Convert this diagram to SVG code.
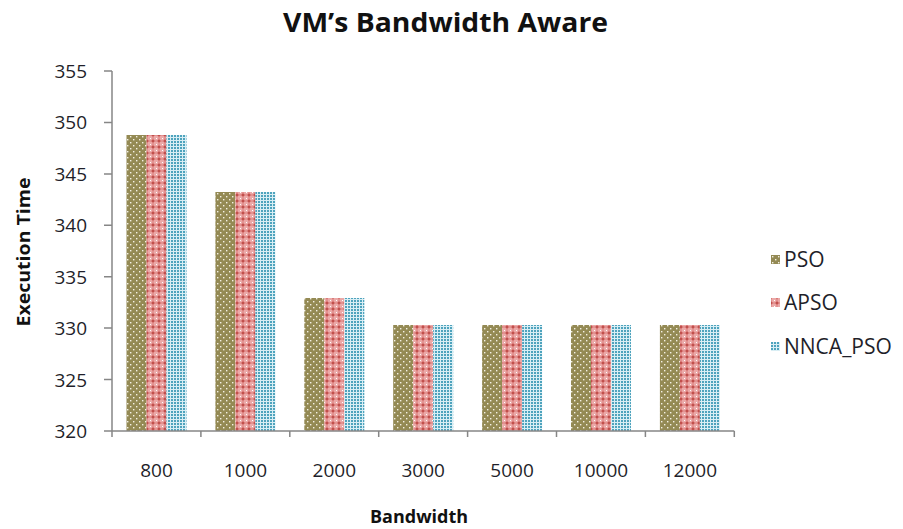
<svg xmlns="http://www.w3.org/2000/svg" width="903" height="529" viewBox="0 0 903 529">
  <style>
    .axis { stroke: #868686; stroke-width: 1.5; fill: none; }
    .tick { font-family: "Open Sans", "DejaVu Sans", sans-serif; font-size: 19px; fill: #1f1f2a; }
    .ylab { text-anchor: end; }
    .xlab { text-anchor: middle; }
    .title { font-family: "Open Sans", "Liberation Sans", sans-serif; font-weight: bold; font-size: 27px; fill: #111; text-anchor: middle; }
    .axtitle { font-family: "Open Sans", "Liberation Sans", sans-serif; font-weight: bold; font-size: 17px; fill: #111; text-anchor: middle; }
    .legend { font-family: "Open Sans", "DejaVu Sans", sans-serif; font-size: 21px; fill: #1f1f2a; }
    .pso { fill: url(#patPSO); }
    .apso { fill: url(#patAPSO); }
    .nnca { fill: url(#patNNCA); }
  </style>
  <defs>
    <!-- olive fill with white dots -->
    <pattern id="patPSO" width="6" height="6" patternUnits="userSpaceOnUse">
      <rect width="6" height="6" fill="#948A54"/>
      <rect x="1" y="1" width="1.4" height="1.4" fill="#f4f1e4"/>
      <rect x="4" y="4" width="1.4" height="1.4" fill="#f4f1e4"/>
    </pattern>
    <!-- red lattice with plus marks -->
    <pattern id="patAPSO" width="6" height="6" patternUnits="userSpaceOnUse">
      <rect width="6" height="6" fill="#eba9a8"/>
      <rect x="2.5" y="0.5" width="1" height="5" fill="#c94f4c"/>
      <rect x="0.5" y="2.5" width="5" height="1" fill="#c94f4c"/>
      <rect x="2" y="2" width="2" height="2" fill="#c0504d"/>
      <rect x="0" y="0" width="1" height="1" fill="#ffffff"/>
    </pattern>
    <!-- fine blue checker -->
    <pattern id="patNNCA" width="3" height="3" patternUnits="userSpaceOnUse">
      <rect width="3" height="3" fill="#d9eef4"/>
      <rect x="0" y="0" width="2" height="2" fill="#4ea3bd"/>
    </pattern>
  </defs>

  <rect width="903" height="529" fill="#ffffff"/>

  <!-- title -->
  <text class="title" x="445.5" y="32" textLength="325" lengthAdjust="spacingAndGlyphs">VM’s Bandwidth Aware</text>

  <!-- axis titles -->
  <text class="axtitle" transform="translate(30,252) rotate(-90)" textLength="149" lengthAdjust="spacingAndGlyphs">Execution Time</text>
  <text class="axtitle" x="419" y="523" textLength="98" lengthAdjust="spacingAndGlyphs">Bandwidth</text>

  <!-- bars -->
  <g id="series-pso">
    <rect class="pso" x="126.5" y="135" width="20" height="296"/>
    <rect class="pso" x="215.4" y="192" width="20" height="239"/>
    <rect class="pso" x="304.3" y="298" width="20" height="133"/>
    <rect class="pso" x="393.2" y="325" width="20" height="106"/>
    <rect class="pso" x="482.1" y="325" width="20" height="106"/>
    <rect class="pso" x="571.0" y="325" width="20" height="106"/>
    <rect class="pso" x="659.9" y="325" width="20" height="106"/>
  </g>
  <g id="series-apso">
    <rect class="apso" x="146.5" y="135" width="20" height="296"/>
    <rect class="apso" x="235.4" y="192" width="20" height="239"/>
    <rect class="apso" x="324.3" y="298" width="20" height="133"/>
    <rect class="apso" x="413.2" y="325" width="20" height="106"/>
    <rect class="apso" x="502.1" y="325" width="20" height="106"/>
    <rect class="apso" x="591.0" y="325" width="20" height="106"/>
    <rect class="apso" x="679.9" y="325" width="20" height="106"/>
  </g>
  <g id="series-nnca">
    <rect class="nnca" x="166.5" y="135" width="20" height="296"/>
    <rect class="nnca" x="255.4" y="192" width="20" height="239"/>
    <rect class="nnca" x="344.3" y="298" width="20" height="133"/>
    <rect class="nnca" x="433.2" y="325" width="20" height="106"/>
    <rect class="nnca" x="522.1" y="325" width="20" height="106"/>
    <rect class="nnca" x="611.0" y="325" width="20" height="106"/>
    <rect class="nnca" x="699.9" y="325" width="20" height="106"/>
  </g>

  <!-- axes and ticks -->
  <g id="axes">
    <path class="axis" d="M112 71 V437 M104 431 H734.3"/>
    <path class="axis" d="M104 71.0 H112 M104 122.4 H112 M104 173.9 H112 M104 225.3 H112 M104 276.7 H112 M104 328.1 H112 M104 379.6 H112"/>
    <path class="axis" d="M200.9 431 V437 M289.8 431 V437 M378.7 431 V437 M467.6 431 V437 M556.5 431 V437 M645.4 431 V437 M734.3 431 V437"/>
  </g>

  <!-- y tick labels -->
  <g id="y-labels" class="tick ylab">
    <text x="87" y="78">355</text>
    <text x="87" y="129.4">350</text>
    <text x="87" y="180.9">345</text>
    <text x="87" y="232.3">340</text>
    <text x="87" y="283.7">335</text>
    <text x="87" y="335.1">330</text>
    <text x="87" y="386.6">325</text>
    <text x="87" y="438">320</text>
  </g>

  <!-- x tick labels -->
  <g id="x-labels" class="tick xlab">
    <text x="156.5" y="477">800</text>
    <text x="245.4" y="477">1000</text>
    <text x="334.3" y="477">2000</text>
    <text x="423.2" y="477">3000</text>
    <text x="512.1" y="477">5000</text>
    <text x="601.0" y="477">10000</text>
    <text x="689.9" y="477">12000</text>
  </g>

  <!-- legend -->
  <g id="legend">
    <g id="legend-pso">
      <rect class="pso" x="771" y="255" width="9" height="9"/>
      <text class="legend" x="784" y="267">PSO</text>
    </g>
    <g id="legend-apso">
      <rect class="apso" x="771" y="298" width="9" height="9"/>
      <text class="legend" x="784" y="310">APSO</text>
    </g>
    <g id="legend-nnca">
      <rect class="nnca" x="771" y="342" width="9" height="9"/>
      <text class="legend" x="784" y="354">NNCA_PSO</text>
    </g>
  </g>
</svg>
